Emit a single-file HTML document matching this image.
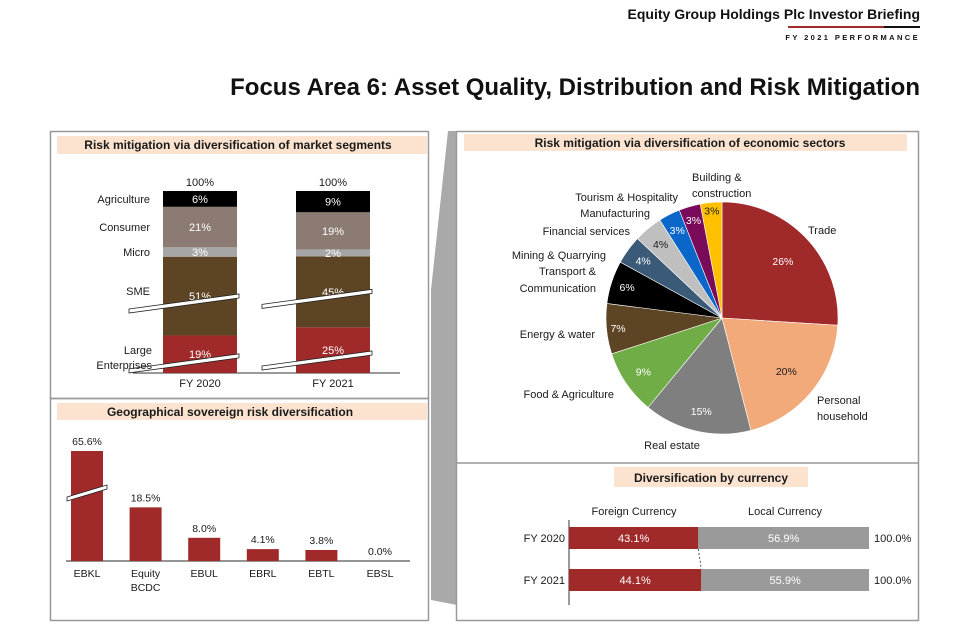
<!DOCTYPE html>
<html><head><meta charset="utf-8">
<style>
html,body{margin:0;padding:0;background:#fff;}
svg{display:block;font-family:"Liberation Sans",sans-serif;}
.t{font-size:11px;fill:#1a1a1a;}
.h{font-size:12px;font-weight:bold;fill:#1a1a1a;}
</style></head>
<body>
<svg id="page" width="960" height="639" viewBox="0 0 960 639">
<text x="920" y="19" text-anchor="end" style="font-size:14px;font-weight:bold" fill="#111">Equity Group Holdings Plc Investor Briefing</text>
<rect x="788" y="26" width="96" height="2" fill="#a0292a"/>
<rect x="884" y="26" width="36" height="2" fill="#111"/>
<text x="920" y="40" text-anchor="end" style="font-size:7.5px;font-weight:bold;letter-spacing:2.4px" fill="#111">FY 2021 PERFORMANCE</text>
<text x="920" y="95" text-anchor="end" style="font-size:24px;font-weight:bold" fill="#111">Focus Area 6: Asset Quality, Distribution and Risk Mitigation</text>

<!-- panels -->
<rect x="50.5" y="131.5" width="378" height="267" fill="none" stroke="#999" stroke-width="1.5"/>
<rect x="50.5" y="398.5" width="378" height="222" fill="none" stroke="#999" stroke-width="1.5"/>
<polygon points="448,131 457,131 457,605 431,600 431,290" fill="#a9a9a9"/>
<rect x="456.5" y="131.5" width="462" height="489" fill="none" stroke="#999" stroke-width="1.5"/>
<line x1="456" y1="463" x2="918" y2="463" stroke="#999" stroke-width="1.5"/>

<rect x="57" y="136" width="370" height="18" fill="#fbe3cf"/>
<text x="238" y="149" text-anchor="middle" class="h">Risk mitigation via diversification of market segments</text>
<rect x="57" y="403" width="370" height="17" fill="#fbe3cf"/>
<text x="230" y="416" text-anchor="middle" class="h">Geographical sovereign risk diversification</text>
<rect x="464" y="134" width="443" height="17" fill="#fbe3cf"/>
<text x="690" y="147" text-anchor="middle" class="h">Risk mitigation via diversification of economic sectors</text>
<rect x="614" y="467" width="194" height="20" fill="#fbe3cf"/>
<text x="711" y="482" text-anchor="middle" class="h">Diversification by currency</text>

<g id="seg"></g>
<g id="geo"></g>
<g id="pie"></g>
<g id="cur"></g>

<!-- pie category labels -->
<g class="t">
<text x="692" y="181" class="t">Building &amp;</text>
<text x="692" y="197" class="t">construction</text>
<text x="678" y="201" text-anchor="end" class="t">Tourism &amp; Hospitality</text>
<text x="650" y="217" text-anchor="end" class="t">Manufacturing</text>
<text x="630" y="235" text-anchor="end" class="t">Financial services</text>
<text x="606" y="259" text-anchor="end" class="t">Mining &amp; Quarrying</text>
<text x="596" y="275" text-anchor="end" class="t">Transport &amp;</text>
<text x="596" y="292" text-anchor="end" class="t">Communication</text>
<text x="595" y="338" text-anchor="end" class="t">Energy &amp; water</text>
<text x="614" y="398" text-anchor="end" class="t">Food &amp; Agriculture</text>
<text x="672" y="449" text-anchor="middle" class="t">Real estate</text>
<text x="817" y="404" class="t">Personal</text>
<text x="817" y="420" class="t">household</text>
<text x="808" y="234" class="t">Trade</text>
</g>
</svg>
<script>
// ---- market segments data ----
const segYears = ["FY 2020","FY 2021"];
const segNames = ["Large Enterprises","SME","Micro","Consumer","Agriculture"];
const segLarge = [19,25];
const segSME = [51,45];
const segMicro = [3,2];
const segConsumer = [21,19];
const segAgri = [6,9];
// ---- geographical data ----
const geoCats = ["EBKL","Equity BCDC","EBUL","EBRL","EBTL","EBSL"];
const geoVals = [65.6,18.5,8.0,4.1,3.8,0.0];
// ---- pie data ----
const pieCats = ["Trade","Personal household","Real estate","Food & Agriculture","Energy & water","Transport & Communication","Mining & Quarrying","Financial services","Manufacturing","Tourism & Hospitality","Building & construction"];
const pieVals = [26,20,15,9,7,6,4,4,3,3,3];
// ---- currency data ----
const curYears = ["FY 2020","FY 2021"];
const curForeign = [43.1,44.1];
const curLocal = [56.9,55.9];

const NS="http://www.w3.org/2000/svg";
function mk(parent,tag,attrs,txt){const e=document.createElementNS(NS,tag);for(const k in attrs)e.setAttribute(k,attrs[k]);if(txt!==undefined)e.textContent=txt;parent.appendChild(e);return e;}

// ===== stacked segments =====
(function(){
  const g=document.getElementById('seg');
  const base=373, total=182, barW=74, xs=[163,296];
  const colors=["#a0292a","#5c4424","#a6a6a6","#8b7b72","#000000"];
  const series=[segLarge,segSME,segMicro,segConsumer,segAgri];
  const ph=v=>Math.pow(v,0.75);
  const ln=mk(g,'line',{x1:133,y1:base,x2:400,y2:base,stroke:'#333','stroke-width':1});
  
  
  const boundsY=[];
  segYears.forEach((yr,i)=>{
    let sum=0; series.forEach(s=>sum+=ph(s[i]));
    let y=base; const b=[];
    series.forEach((s,j)=>{
      const h=ph(s[i])/sum*total;
      const r=mk(g,'rect',{x:xs[i],y:y-h,width:barW,height:h,fill:colors[j]});
      
      
      const lbl=mk(g,'text',{x:xs[i]+barW/2,y:y-h/2+4,'text-anchor':'middle',class:'t',style:'fill:#fff'},s[i]+'%');
      
      
      b.push([y-h,y]);
      y-=h;
    });
    boundsY.push(b);
    const tl=mk(g,'text',{x:xs[i]+barW/2,y:base-total-5,'text-anchor':'middle',class:'t'},'100%');
    
    
    const xl=mk(g,'text',{x:xs[i]+barW/2,y:base+14,'text-anchor':'middle',class:'t'},yr);
    
    
    [b[0][0]+ (b[0][1]-b[0][0])*0.65, b[1][0]+(b[1][1]-b[1][0])*0.55].forEach(yy=>{
      const p=mk(g,'polygon',{points:`${xs[i]-34},${yy+9} ${xs[i]+barW+2},${yy-6} ${xs[i]+barW+2},${yy-2} ${xs[i]-34},${yy+13}`,fill:'#fff',stroke:'#222','stroke-width':0.8});
      
      
    });
  });
  const b=boundsY[0];
  const lblY=[null,(b[1][0]+b[1][1])/2-1,(b[2][0]+b[2][1])/2+4,(b[3][0]+b[3][1])/2+4,(b[4][0]+b[4][1])/2+4];
  for(let j=1;j<5;j++){
    const t=mk(g,'text',{x:150,y:lblY[j],'text-anchor':'end',class:'t'},segNames[j]);
    
    
  }
  const t1=mk(g,'text',{x:152,y:354,'text-anchor':'end',class:'t'},'Large');
  
  
  const t2=mk(g,'text',{x:152,y:369,'text-anchor':'end',class:'t'},'Enterprises');
  
  
})();

// ===== geographical bars =====
(function(){
  const g=document.getElementById('geo');
  const base=561, x0=71, step=58.6, bw=32;
  const yS=v=> v<=20 ? v*2.9 : 58+(v-20)*1.14;
  const ln=mk(g,'line',{x1:66,y1:base,x2:410,y2:base,stroke:'#555','stroke-width':1.2});
  
  
  geoCats.forEach((c,i)=>{
    const x=x0+i*step, h=yS(geoVals[i]);
    const r=mk(g,'rect',{x:x,y:base-h,width:bw,height:h,fill:'#a0292a'});
    
    
    const v=mk(g,'text',{x:x+bw/2,y:base-h-6,'text-anchor':'middle',class:'t',style:'font-size:10.5px'},geoVals[i].toFixed(1)+'%');
    
    
    c.split(' ').forEach((w,k)=>{
      const t=mk(g,'text',{x:x+bw/2,y:base+16+k*14,'text-anchor':'middle',class:'t',style:'font-size:10.5px'},w);
      
      
    });
    if(geoVals[i]>20){
      const yy=base-h+38;
      const p=mk(g,'polygon',{points:`${x-4},${yy+8} ${x+bw+4},${yy-4} ${x+bw+4},${yy} ${x-4},${yy+12}`,fill:'#fff',stroke:'#222','stroke-width':0.8});
      
      
    }
  });
})();

// ===== pie =====
(function(){
  const g=document.getElementById('pie');
  const cx=722, cy=318, r=116;
  const colors=["#a0292a","#f2aa7b","#7f7f7f","#70ad47","#5c4424","#000000","#3a5a78","#bfbfbf","#0a66c8","#7a0a5a","#ffc000"];
  const lblCol=["#fff","#1a1a1a","#fff","#fff","#fff","#fff","#fff","#1a1a1a","#fff","#fff","#1a1a1a"];
  const fr=[0.72,0.72,0.82,0.82,0.9,0.86,0.84,0.83,0.85,0.88,0.93];
  let tot=0; pieVals.forEach(v=>tot+=v);
  let a=0;
  pieVals.forEach((v,i)=>{
    const a0=a, a1=a+v/tot*2*Math.PI; a=a1;
    const p0=[cx+r*Math.sin(a0),cy-r*Math.cos(a0)], p1=[cx+r*Math.sin(a1),cy-r*Math.cos(a1)];
    const large=(a1-a0)>Math.PI?1:0;
    const s=mk(g,'path',{d:`M${cx},${cy} L${p0[0]},${p0[1]} A${r},${r} 0 ${large} 1 ${p1[0]},${p1[1]} Z`,fill:colors[i],stroke:'#fff','stroke-width':0.6});
    
    
    const m=(a0+a1)/2, rr=r*fr[i];
    const t=mk(g,'text',{x:cx+rr*Math.sin(m),y:cy-rr*Math.cos(m)+4,'text-anchor':'middle',class:'t',style:'font-size:10.5px;fill:'+lblCol[i]},v+'%');
    
    
  });
})();

// ===== currency =====
(function(){
  const g=document.getElementById('cur');
  const x0=569, w=300, ys=[527,569], bh=22;
  const xS=v=>x0+v/100*w;
  const ax=mk(g,'line',{x1:x0,y1:520,x2:x0,y2:605,stroke:'#333','stroke-width':1});
  
  
  const h1=mk(g,'text',{x:634,y:515,'text-anchor':'middle',class:'t'},'Foreign Currency');
  
  
  const h2=mk(g,'text',{x:785,y:515,'text-anchor':'middle',class:'t'},'Local Currency');
  
  
  curYears.forEach((yr,i)=>{
    const y=ys[i], xf=xS(curForeign[i]), xl=xS(curForeign[i]+curLocal[i]);
    const r1=mk(g,'rect',{x:x0,y:y,width:xf-x0,height:bh,fill:'#a0292a'});
    
    
    const r2=mk(g,'rect',{x:xf,y:y,width:xl-xf,height:bh,fill:'#9a9a9a'});
    
    
    const t1=mk(g,'text',{x:(x0+xf)/2,y:y+15,'text-anchor':'middle',class:'t',style:'fill:#fff'},curForeign[i].toFixed(1)+'%');
    
    
    const t2=mk(g,'text',{x:(xf+xl)/2,y:y+15,'text-anchor':'middle',class:'t',style:'fill:#fff'},curLocal[i].toFixed(1)+'%');
    
    
    const t3=mk(g,'text',{x:874,y:y+15,class:'t'},(curForeign[i]+curLocal[i]).toFixed(1)+'%');
    
    
    const yl=mk(g,'text',{x:565,y:y+15,'text-anchor':'end',class:'t'},yr);
    
    
  });
  const c=mk(g,'line',{x1:xS(curForeign[0]),y1:ys[0]+bh,x2:xS(curForeign[1]),y2:ys[1],stroke:'#333','stroke-width':0.8,'stroke-dasharray':'2,2'});
  
  
})();
</script>
</body></html>
